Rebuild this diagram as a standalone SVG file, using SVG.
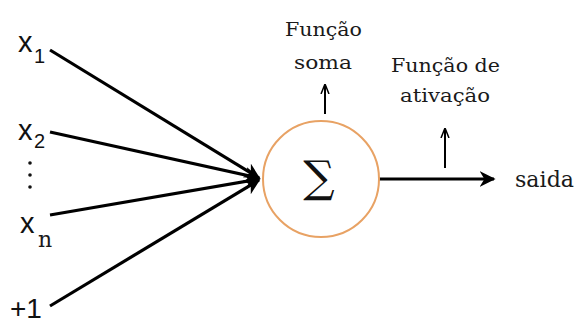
<svg xmlns="http://www.w3.org/2000/svg" width="576" height="325" viewBox="0 0 576 325">
<style>
.lbl{font-family:"DejaVu Serif","Liberation Serif",serif;font-size:19px;fill:#1a1a1a;}
.var{font-family:"Liberation Sans",Arial,sans-serif;font-size:29px;fill:#111;}
.sub{font-family:"Liberation Sans",Arial,sans-serif;font-size:20px;fill:#111;}
.edge{stroke:#000;stroke-width:3.2;fill:none;}
.thin{stroke:#000;stroke-width:2;fill:none;}
</style>
<defs>
<marker id="ah" viewBox="0 0 10 10" refX="9" refY="5" markerWidth="5" markerHeight="5" orient="auto" markerUnits="strokeWidth">
<path d="M0,0 L10,5 L0,10 L3,5 Z" fill="#000"/>
</marker>
<marker id="ahs" viewBox="0 0 10 10" refX="9" refY="5" markerWidth="5" markerHeight="5" orient="auto" markerUnits="strokeWidth">
<path d="M0,1 L10,5 L0,9" fill="none" stroke="#000" stroke-width="1.5"/>
</marker>
</defs>
<rect width="576" height="325" fill="#fff"/>
<g id="connectors">
<line class="edge" x1="50" y1="50" x2="259" y2="178" marker-end="url(#ah)"/>
<line class="edge" x1="50" y1="132" x2="259" y2="178" marker-end="url(#ah)"/>
<line class="edge" x1="50" y1="215" x2="259" y2="179" marker-end="url(#ah)"/>
<line class="edge" x1="50" y1="306" x2="259" y2="180" marker-end="url(#ah)"/>
<line class="edge" x1="379" y1="179" x2="494" y2="179" marker-end="url(#ah)"/>
<line class="thin" x1="325" y1="114" x2="325" y2="85" marker-end="url(#ahs)"/>
<line class="thin" x1="445" y1="168" x2="445" y2="129" marker-end="url(#ahs)"/>
</g>
<g id="x1"><text class="var" x="18" y="52">x</text><text class="sub" x="34" y="63">1</text></g>
<g id="x2"><text class="var" x="18" y="140">x</text><text class="sub" x="34" y="148">2</text></g>
<g id="dots"><circle cx="30" cy="163" r="1.8" fill="#111"/><circle cx="30" cy="175" r="1.8" fill="#111"/><circle cx="30" cy="187" r="1.8" fill="#111"/></g>
<g id="xn"><text class="var" x="20" y="233">x</text><text class="lbl" x="38" y="247" style="font-size:22px">n</text></g>
<g id="bias"><text class="var" x="10" y="318" style="font-size:28px">+1</text></g>
<g id="sum">
<circle cx="321" cy="179" r="58" fill="#fff" stroke="#E8A264" stroke-width="2"/>
<text x="319" y="192" text-anchor="middle" style="font-family:'DejaVu Serif',serif;font-size:44px;fill:#111">∑</text>
</g>
<g id="soma"><text class="lbl" x="285" y="36" textLength="77" lengthAdjust="spacingAndGlyphs">Função</text><text class="lbl" x="294" y="69" textLength="58" lengthAdjust="spacingAndGlyphs">soma</text></g>
<g id="ativacao"><text class="lbl" x="391" y="72" textLength="109" lengthAdjust="spacingAndGlyphs">Função de</text><text class="lbl" x="400" y="102" textLength="90" lengthAdjust="spacingAndGlyphs">ativação</text></g>
<g id="saida"><text class="lbl" x="515" y="187" style="font-size:22px" textLength="59" lengthAdjust="spacingAndGlyphs">saida</text></g>
</svg>
